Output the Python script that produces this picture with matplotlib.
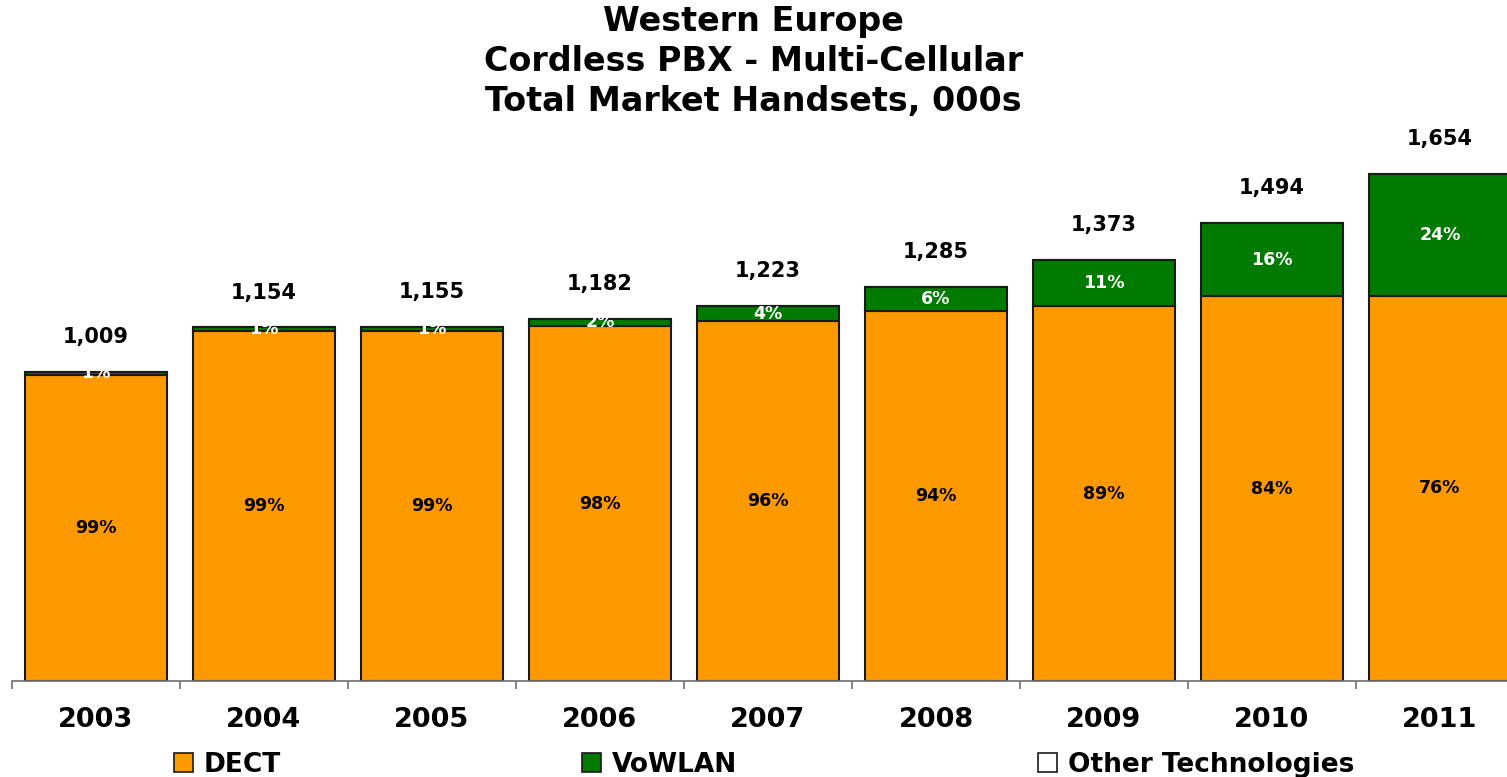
import matplotlib
matplotlib.use("Agg")
import matplotlib.pyplot as plt
from matplotlib.patches import Patch
import numpy as np

plt.rcParams['font.family'] = ['DejaVu Sans']

years = ['2003', '2004', '2005', '2006', '2007', '2008', '2009', '2010', '2011']
totals = [1009, 1154, 1155, 1182, 1223, 1285, 1373, 1494, 1654]
dect = [999, 1142, 1143, 1158, 1174, 1208, 1222, 1255, 1257]
vowlan = [10, 12, 12, 24, 49, 77, 151, 239, 397]
other = [0, 0, 0, 0, 0, 0, 0, 0, 0]
dect_pct = ['99%', '99%', '99%', '98%', '96%', '94%', '89%', '84%', '76%']
vowlan_pct = ['1%', '1%', '1%', '2%', '4%', '6%', '11%', '16%', '24%']

W, H = 1507, 777
fig = plt.figure(figsize=(W / 100, H / 100), dpi=100)
ax = fig.add_axes([12 / W, (H - 681) / H, 1512 / W, 551.7 / H])

x = np.arange(len(years))
bw = 0.84
c_dect = '#FF9900'
c_vow = '#007A00'
ec = '#1a1a1a'
ax.bar(x, dect, bw, color=c_dect, edgecolor=ec, linewidth=1.5, label='DECT')
ax.bar(x, vowlan, bw, bottom=dect, color=c_vow, edgecolor=ec, linewidth=1.5, label='VoWLAN')
ax.bar(x, other, bw, bottom=np.array(dect) + np.array(vowlan), color='white',
       edgecolor=ec, linewidth=1.5, label='Other Technologies')

for i in range(len(years)):
    ax.text(x[i], dect[i] / 2, dect_pct[i], ha='center', va='center',
            fontsize=12.5, fontweight='bold', color='black')
    ax.text(x[i], dect[i] + vowlan[i] / 2, vowlan_pct[i], ha='center', va='center',
            fontsize=12.5, fontweight='bold', color='white')
    ax.annotate(f'{totals[i]:,}', (x[i], totals[i]), xytext=(0, 25),
                textcoords='offset points', ha='center', va='center',
                fontsize=15, fontweight='bold', color='black')

ax.set_xlim(-0.5, len(years) - 0.5)
ax.set_ylim(0, 1800)
for s in ['top', 'right', 'left']:
    ax.spines[s].set_visible(False)
ax.spines['bottom'].set_color('#707070')
ax.spines['bottom'].set_linewidth(1.2)
ax.set_yticks([])
ax.set_xticks(x)
ax.set_xticklabels(years, fontsize=19.5, fontweight='bold')
ax.tick_params(axis='x', which='major', length=0, pad=19)
ax.set_xticks(np.arange(-0.5, len(years), 1.0), minor=True)
ax.tick_params(axis='x', which='minor', length=6, color='#707070', width=1.2)

fig.text(0.5, 1 - 5 / H, 'Western Europe\nCordless PBX - Multi-Cellular\nTotal Market Handsets, 000s',
         ha='center', va='top', fontsize=24, fontweight='bold', linespacing=1.27)

handles = [Patch(facecolor=c_dect, edgecolor=ec, linewidth=1.2),
           Patch(facecolor=c_vow, edgecolor=ec, linewidth=1.2),
           Patch(facecolor='white', edgecolor=ec, linewidth=1.2)]
leg = fig.legend(handles, ['DECT', 'VoWLAN', 'Other Technologies'], loc='center',
                 bbox_to_anchor=(764 / W, (H - 765) / H), ncol=3, frameon=False,
                 prop={'size': 19, 'weight': 'bold'}, handlelength=0.72, handleheight=0.72,
                 handletextpad=0.42, columnspacing=11.4, borderpad=0)

fig.savefig('out.png', dpi=100)
